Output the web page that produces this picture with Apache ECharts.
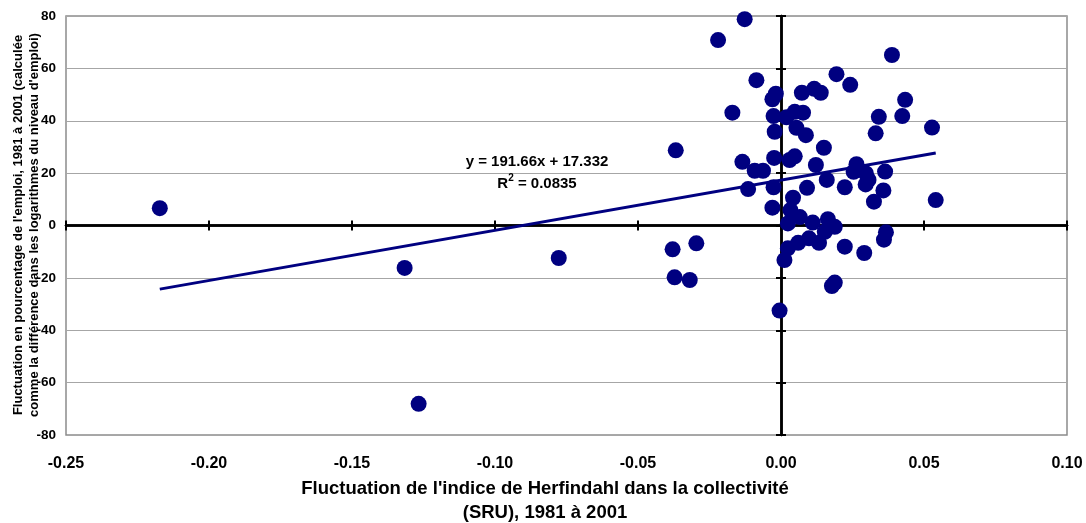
<!DOCTYPE html>
<html>
<head>
<meta charset="utf-8">
<script src="https://cdn.jsdelivr.net/npm/echarts@6/dist/echarts.min.js"></script>
<style>
html,body{margin:0;padding:0;background:#fff;}
#chart{width:1086px;height:523px;}
</style>
</head>
<body>
<div id="chart"></div>
<script>
// Herfindahl index change (x) and employment change % (y)
const herfindahl = [
  -0.2172, -0.1316, -0.1267, -0.0777, -0.0379, -0.0372, -0.0319, -0.0296,
  -0.0127, -0.0220, -0.0086, -0.0170, -0.0368, -0.0135, -0.0092, -0.0063,
  -0.0115, -0.0026, -0.0030, -0.0024, -0.0022, -0.0026, -0.0030, -0.0018,
  -0.0005, 0.0012, 0.0024, 0.0060, 0.0098, 0.0133, 0.0153, 0.0188,
  0.0164, 0.0024, 0.0066, 0.0111, 0.0033, 0.0042, 0.0091, 0.0160,
  0.0223, 0.0019, 0.0048, 0.0077, 0.0054, 0.0087, 0.0150, 0.0030,
  0.0048, 0.0122, 0.0073, 0.0116, 0.0139, 0.0194, 0.0242, 0.0388,
  0.0434, 0.0342, 0.0424, 0.0528, 0.0331, 0.0264, 0.0254, 0.0297,
  0.0306, 0.0296, 0.0364, 0.0358, 0.0325, 0.0541, 0.0367, 0.0360,
  0.0223, 0.0291, 0.0188, 0.0178
];
const emploi = [
  6.6, -16.2, -68.1, -12.4, -9.1, -19.8, -20.8, -6.8,
  78.8, 70.8, 55.5, 43.1, 28.7, 24.3, 20.9, 20.9,
  13.9, 14.6, 6.8, 25.8, 35.8, 41.8, 48.2, 50.3,
  -32.5, -13.2, -8.7, -6.6, -4.9, -6.6, -2.4, -0.5,
  2.4, 0.8, 3.2, 1.1, 5.9, 10.6, 14.4, 17.4,
  14.6, 41.3, 43.4, 43.1, 37.3, 34.5, 29.7, 25.0,
  26.4, 23.1, 50.7, 52.2, 50.7, 57.8, 53.7, 65.1,
  48.0, 41.5, 41.8, 37.4, 35.2, 23.4, 20.5, 19.9,
  17.4, 15.7, 20.6, 13.4, 9.1, 9.7, -2.6, -5.4,
  -8.1, -10.5, -21.8, -23.1
];
// Linear trend line endpoints (y = 191.66x + 17.332)
const trendX = [-0.2172, 0.0541];
const trendY = [-24.3, 27.7];
const xTicks = [-0.25, -0.20, -0.15, -0.10, -0.05, 0.00, 0.05, 0.10];
const yTicks = [-80, -60, -40, -20, 0, 20, 40, 60, 80];
const eqText = 'y = 191.66x + 17.332';
const r2Value = '0.0835';
const xTitle = "Fluctuation de l'indice de Herfindahl dans la collectivité\n(SRU), 1981 à 2001";
const yTitle = "Fluctuation en pourcentage de l'emploi, 1981 à 2001 (calculée\ncomme la différence dans les logarithmes du niveau d'emploi)";

const FONT = '"Liberation Sans", Arial, sans-serif';
const xMin = xTicks[0], xMax = xTicks[xTicks.length - 1];
const yMin = yTicks[0], yMax = yTicks[yTicks.length - 1];

const points = herfindahl.map((x, i) => [x, emploi[i]]);
const trend = trendX.map((x, i) => [x, trendY[i]]);

const zeroAxisX = (inside) => ({
  type: 'value', min: xMin, max: xMax, interval: 0.05, position: 'bottom',
  axisLine: { show: true, onZero: true, lineStyle: { color: '#000', width: 2.5 } },
  axisTick: { show: true, inside: inside, length: 5, lineStyle: { color: '#000', width: 2 } },
  axisLabel: { show: false }, splitLine: { show: false }
});
const zeroAxisY = (inside) => ({
  type: 'value', min: yMin, max: yMax, interval: 20, position: 'left',
  axisLine: { show: true, onZero: true, lineStyle: { color: '#000', width: 2.5 } },
  axisTick: { show: true, inside: inside, length: 5, lineStyle: { color: '#000', width: 2 } },
  axisLabel: { show: false }, splitLine: { show: false }
});

const chart = echarts.init(document.getElementById('chart'));
chart.setOption({
  animation: false,
  backgroundColor: '#fff',
  grid: { left: 66, right: 19, top: 16, bottom: 88, show: true, borderColor: '#8c8c8c', borderWidth: 1.5,
          containLabel: false, outerBoundsMode: 'none' },
  xAxis: [
    {
      type: 'value', min: xMin, max: xMax, interval: 0.05, position: 'bottom',
      axisLine: { show: false, onZero: false }, axisTick: { show: false },
      splitLine: { show: false },
      axisLabel: { show: true, margin: 21, fontFamily: FONT, fontWeight: 'bold', fontSize: 16, color: '#000',
        formatter: v => v.toFixed(2) }
    },
    zeroAxisX(false),
    zeroAxisX(true)
  ],
  yAxis: [
    {
      type: 'value', min: yMin, max: yMax, interval: 20, position: 'left',
      axisLine: { show: false, onZero: false }, axisTick: { show: false },
      splitLine: { show: true, lineStyle: { color: '#a6a6a6', width: 1.2 } },
      axisLabel: { show: true, margin: 10, fontFamily: FONT, fontWeight: 'bold', fontSize: 13.5, color: '#000' }
    },
    zeroAxisY(false),
    zeroAxisY(true)
  ],
  series: [
    {
      type: 'scatter', data: points, symbol: 'circle', symbolSize: 16,
      itemStyle: { color: '#000080', opacity: 1 }, z: 3, silent: true
    },
    {
      type: 'line', data: trend, symbol: 'none', z: 4, silent: true,
      lineStyle: { color: '#000080', width: 3 }
    }
  ],
  graphic: [
    {
      type: 'text', x: 537, y: 162, z: 10,
      style: { text: eqText, font: 'bold 15px ' + FONT, fill: '#000', align: 'center', verticalAlign: 'middle' }
    },
    {
      type: 'text', x: 537, y: 182, z: 10,
      style: {
        text: '{a|R}{s|2}{a| = ' + r2Value + '}',
        align: 'center', verticalAlign: 'middle',
        rich: {
          a: { fontFamily: FONT, fontWeight: 'bold', fontSize: 15, fill: '#000', lineHeight: 18, verticalAlign: 'bottom' },
          s: { fontFamily: FONT, fontWeight: 'bold', fontSize: 10, fill: '#000', lineHeight: 18, verticalAlign: 'top' }
        }
      }
    },
    {
      type: 'text', x: 545, y: 501, z: 10,
      style: { text: xTitle, font: 'bold 18.5px ' + FONT, fill: '#000', align: 'center', verticalAlign: 'middle', lineHeight: 24 }
    },
    {
      type: 'text', x: 26, y: 225, rotation: Math.PI / 2, z: 10,
      style: { text: yTitle, font: 'bold 13px ' + FONT, fill: '#000', align: 'center', verticalAlign: 'middle', lineHeight: 16 }
    }
  ]
});
</script>
</body>
</html>
